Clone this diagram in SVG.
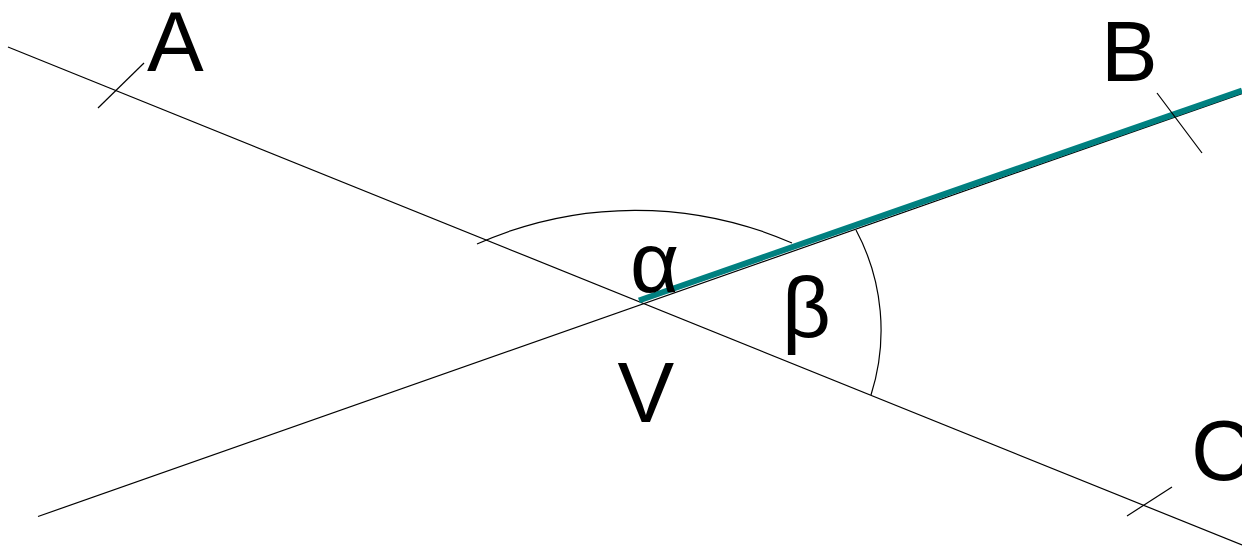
<svg xmlns="http://www.w3.org/2000/svg" width="1242" height="546" viewBox="0 0 1242 546">
<style>
.ln{stroke:#000;stroke-width:1.2;fill:none}
.teal{stroke:#008080;stroke-width:6;fill:none}
.lbl{font-family:"Liberation Sans",Arial,sans-serif;font-size:85px;fill:#000}
</style>
<rect width="1242" height="546" fill="#fff"/>
<g id="connectors">
<line class="ln" x1="8" y1="47" x2="1242" y2="545"/>
<line class="ln" x1="38" y1="516.5" x2="1242" y2="93.5"/>
<line class="teal" x1="639" y1="300.5" x2="1242" y2="90.5"/>
<path class="ln" d="M477,244 A390,390 0 0 1 792,243"/>
<path class="ln" d="M856,230 A213,213 0 0 1 871,395"/>
<line class="ln" x1="98" y1="108" x2="144" y2="63"/>
<line class="ln" x1="1157" y1="93" x2="1202" y2="153"/>
<line class="ln" x1="1127" y1="516" x2="1172" y2="487"/>
</g>
<g id="A"><text class="lbl" x="147" y="71">A</text></g>
<g id="B"><text class="lbl" x="1101" y="80.5">B</text></g>
<g id="C"><text class="lbl" x="1191" y="480">C</text></g>
<g id="V"><text class="lbl" x="617.5" y="421.5">V</text></g>
<g id="alpha"><text class="lbl" x="630" y="292">α</text></g>
<g id="beta"><text class="lbl" x="782" y="337">β</text></g>
</svg>
